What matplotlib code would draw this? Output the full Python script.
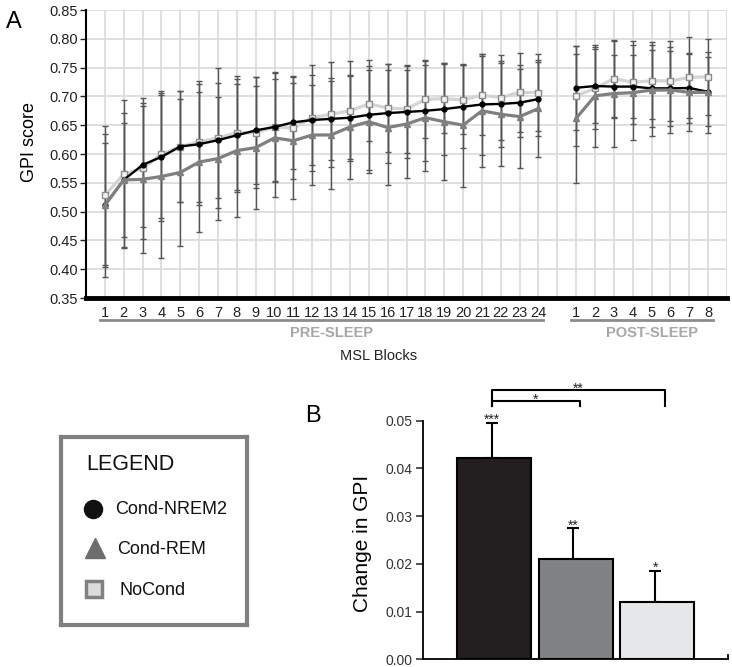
import numpy as np
import matplotlib
matplotlib.use('Agg')
import matplotlib.pyplot as plt

plt.rcParams['font.family'] = ['Liberation Sans', 'DejaVu Sans']

# --- panel A data: GPI score per MSL block ---
pre_blocks = list(range(1, 25))
post_blocks = list(range(1, 9))

nrem2_mean = [0.511, 0.555, 0.581, 0.595, 0.613, 0.617, 0.624, 0.6325, 0.641, 0.647, 0.655, 0.659,
              0.661, 0.663, 0.668, 0.671, 0.673, 0.675, 0.678, 0.682, 0.686, 0.687, 0.689, 0.6955,
              0.715, 0.718, 0.717, 0.717, 0.714, 0.714, 0.7146, 0.708]
rem_mean = [0.511, 0.555, 0.556, 0.561, 0.568, 0.586, 0.592, 0.606, 0.611, 0.628, 0.623, 0.633,
            0.633, 0.647, 0.656, 0.646, 0.652, 0.663, 0.656, 0.650, 0.675, 0.669, 0.665, 0.679,
            0.662, 0.701, 0.705, 0.7065, 0.711, 0.711, 0.707, 0.707]
nocond_mean = [0.528, 0.565, 0.575, 0.5995, 0.613, 0.621, 0.628, 0.637, 0.637, 0.647, 0.645, 0.663,
               0.669, 0.675, 0.687, 0.680, 0.678, 0.695, 0.696, 0.694, 0.702, 0.698, 0.707, 0.7065,
               0.701, 0.714, 0.731, 0.7245, 0.727, 0.727, 0.733, 0.734]

nrem2_sd = [0.108, 0.099, 0.108, 0.111, 0.096, 0.105, 0.100, 0.098, 0.093, 0.096, 0.081, 0.078,
            0.071, 0.072, 0.095, 0.086, 0.080, 0.088, 0.080, 0.072, 0.088, 0.074, 0.059, 0.065,
            0.073, 0.065, 0.055, 0.055, 0.067, 0.065, 0.060, 0.060]
rem_sd = [0.124, 0.116, 0.128, 0.141, 0.127, 0.122, 0.107, 0.115, 0.107, 0.103, 0.101, 0.087,
          0.094, 0.090, 0.089, 0.099, 0.093, 0.092, 0.102, 0.107, 0.098, 0.089, 0.089, 0.084,
          0.112, 0.088, 0.092, 0.083, 0.079, 0.075, 0.067, 0.070]
nocond_sd = [0.121, 0.128, 0.122, 0.110, 0.096, 0.105, 0.121, 0.099, 0.096, 0.094, 0.088, 0.092,
             0.091, 0.087, 0.065, 0.076, 0.077, 0.067, 0.060, 0.060, 0.069, 0.074, 0.068, 0.067,
             0.087, 0.071, 0.067, 0.072, 0.067, 0.070, 0.070, 0.066]

# --- panel B data: change in GPI ---
groups = ['Cond-NREM2', 'Cond-REM', 'NoCond']
change = [0.0421, 0.0210, 0.0121]
change_err = [0.0075, 0.0065, 0.0065]
bar_stars = ['***', '**', '*']
comparisons = [(0, 1, '*'), (0, 2, '**')]

W, H = 732, 667
fig = plt.figure(figsize=(W / 100, H / 100), dpi=100)

# ---------------- panel A ----------------
ax = fig.add_axes([86 / W, 1 - 298 / H, 641 / W, 288 / H])
n_pre = len(pre_blocks)
x_pre = np.arange(1, n_pre + 1)
x_post = n_pre + 1 + np.arange(1, len(post_blocks) + 1)
x_all = np.concatenate([x_pre, x_post])

series = [
    (nocond_mean, nocond_sd, dict(color='#d4d4d4', lw=2.3, marker='s', ms=4.5, mfc='#f2f2f2', mec='#8c8c8c', mew=1.0)),
    (nrem2_mean, nrem2_sd, dict(color='black', lw=1.7, marker='o', ms=3.5, mfc='black', mec='black')),
    (rem_mean, rem_sd, dict(color='#7f7f7f', lw=2.3, marker='^', ms=5, mfc='#7f7f7f', mec='#7f7f7f')),
]
for z, (m, sd, st) in enumerate(series):
    m = np.array(m)
    sd = np.array(sd)
    for sl in (slice(0, n_pre), slice(n_pre, None)):
        ax.errorbar(x_all[sl], m[sl], yerr=sd[sl], fmt='none', ecolor='#555555', elinewidth=1.0,
                    capsize=2, capthick=1.0, zorder=2)
        ax.plot(x_all[sl], m[sl], zorder=3 + z, **st)

ax.set_xlim(0, 34)
ax.set_ylim(0.35, 0.85)
ax.set_yticks(np.arange(0.35, 0.851, 0.05))
ax.set_yticklabels([f'{v:.2f}' for v in np.arange(0.35, 0.851, 0.05)])
ticks = list(range(0, 35))
labels = [''] * len(ticks)
for i, b in enumerate(pre_blocks):
    labels[x_pre[i]] = str(b)
for i, b in enumerate(post_blocks):
    labels[x_post[i]] = str(b)
ax.set_xticks(ticks)
ax.set_xticklabels(labels)
ax.tick_params(axis='x', length=0, pad=6, labelsize=10.5, colors='#222222')
ax.tick_params(axis='y', length=4, width=1, pad=2, labelsize=10.5, colors='#222222')
ax.grid(True, color='#d9d9d9', lw=1.2, zorder=0)
ax.set_axisbelow(True)
for s in ('top', 'right'):
    ax.spines[s].set_visible(False)
ax.spines['left'].set_linewidth(1.5)
ax.spines['bottom'].set_linewidth(3.5)
ax.set_ylabel('GPI score', fontsize=13)
ax.yaxis.set_label_coords(-0.075, 0.54)

trans = ax.get_xaxis_transform()
for xs, name in ((x_pre, 'PRE-SLEEP'), (x_post, 'POST-SLEEP')):
    ax.plot([xs[0] - 0.26, xs[-1] + 0.24], [-0.076, -0.076], transform=trans, color='#8c8c8c',
            lw=2, clip_on=False)
    ax.text((xs[0] + xs[-1]) / 2 + 0.5, -0.12, name, transform=trans, ha='center', va='center',
            fontsize=10.5, fontweight='bold', color='#a6a6a6')
ax.text(15.5, -0.2, 'MSL Blocks', transform=trans, ha='center', va='center', fontsize=10.5,
        color='#222222')
fig.text(14 / W, 1 - 22 / H, 'A', fontsize=17, ha='center', va='center')

# ---------------- panel B ----------------
bx = fig.add_axes([423.3 / W, 1 - 659.3 / H, 304.4 / W, 238.6 / H])
xb = np.arange(len(groups))
bx.bar(xb, change, width=0.905, color=['#231f20', '#808285', '#e6e7e8'], edgecolor='black',
       linewidth=1.5, zorder=2)
bx.errorbar(xb - 0.025, change, yerr=[[0] * len(change), change_err], fmt='none', ecolor='black',
            elinewidth=1.5, capsize=4, capthick=1.5, zorder=1)
for i in range(len(groups)):
    bx.text(xb[i] - 0.025, change[i] + change_err[i] - 0.0003, bar_stars[i], ha='center',
            va='baseline', fontsize=10, color='#222222')
bx.set_xlim(-0.863, 2.862)
bx.set_ylim(0, 0.05)
bx.set_yticks(np.arange(0, 0.0501, 0.01))
bx.set_yticklabels([f'{v:.2f}' for v in np.arange(0, 0.0501, 0.01)])
bx.set_xticks([])
bx.tick_params(axis='y', length=5, width=1.2, labelsize=10, colors='#333333', pad=3)
for s in ('top', 'right'):
    bx.spines[s].set_visible(False)
bx.spines['left'].set_linewidth(1.3)
bx.spines['bottom'].set_linewidth(1.3)
bx.plot([1, 1], [0, 0.02], transform=bx.transAxes, color='black', lw=1.3, clip_on=False)
bx.set_ylabel('Change in GPI', fontsize=15)
bx.yaxis.set_label_coords(-0.17, 0.486)

levels = [0.0542, 0.0564]
for (a, b, lab), yl in zip(comparisons, levels):
    xa, xbb = xb[a] - 0.025, xb[b] + 0.05 * b
    bx.plot([xa, xa, xbb, xbb], [0.0531, yl, yl, 0.0531], color='black', lw=1.5, clip_on=False)
    bx.text((xa + xbb) / 2, yl - 0.0006, lab, ha='center', va='baseline', fontsize=10,
            color='#222222')
fig.text(312.7 / W, 1 - 415.7 / H, 'B', fontsize=17, ha='center', va='center')

# ---------------- legend box ----------------
lx = fig.add_axes([60.7 / W, 1 - 625 / H, 186 / W, 187.7 / H])
lx.set_xlim(0, 1)
lx.set_ylim(0, 1)
lx.set_xticks([])
lx.set_yticks([])
for s in lx.spines.values():
    s.set_color('#808080')
    s.set_linewidth(3)
lx.text(0.14, 0.854, 'LEGEND', fontsize=15.5, va='center', ha='left', color='#111111')
handles = [
    (0.176, 0.619, dict(marker='o', ms=13, mfc='#111111', mec='#111111'), 0.292, 0.616),
    (0.184, 0.41, dict(marker='^', ms=15, mfc='#6d6d6d', mec='#6d6d6d'), 0.301, 0.403),
    (0.18, 0.19, dict(marker='s', ms=12, mfc='#dcdcdc', mec='#808080', mew=2.5), 0.315, 0.186),
]
for (mx, my, st, tx, ty), name in zip(handles, groups):
    lx.plot([mx], [my], ls='none', **st)
    lx.text(tx, ty, name, fontsize=13, va='center', ha='left', color='#111111')

fig.savefig('out.png', dpi=100)
